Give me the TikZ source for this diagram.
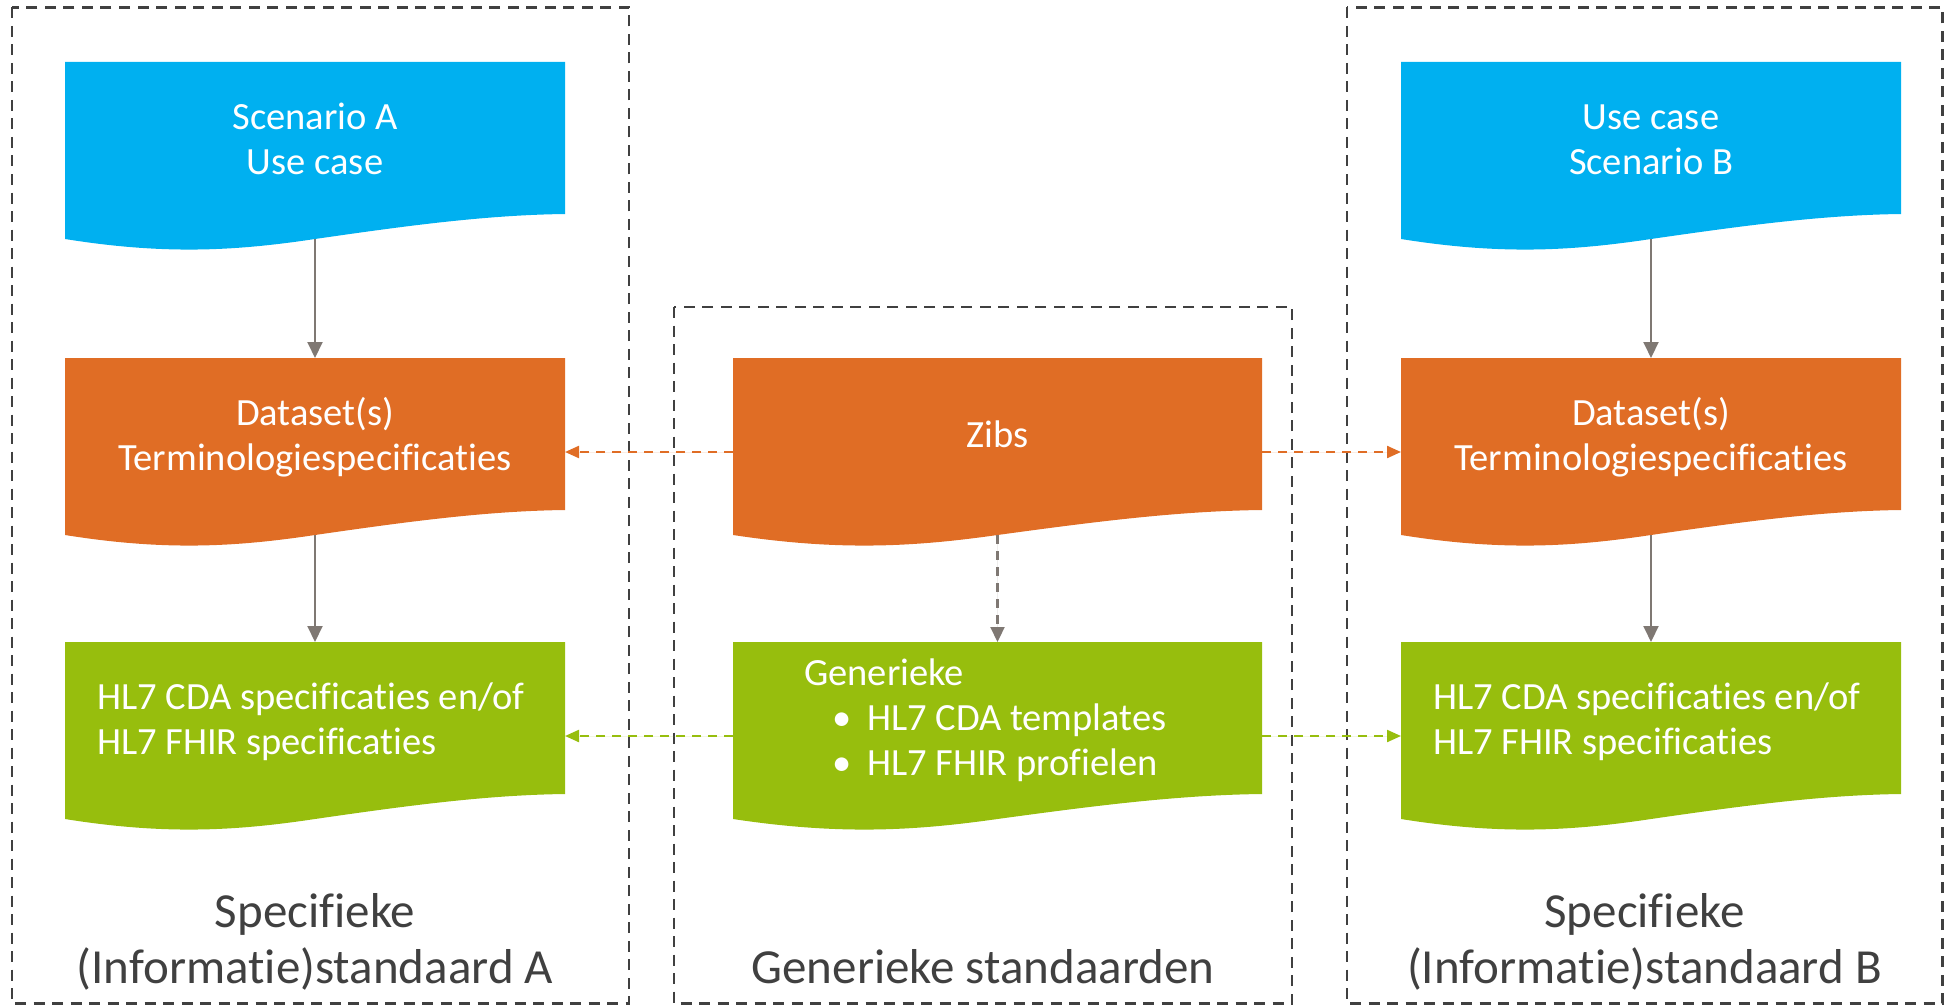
\documentclass[tikz,border=0pt]{standalone}
\usepackage{fontspec}
\setmainfont[Ligatures={NoCommon,NoRare,NoContextual}]{Carlito}
\usetikzlibrary{arrows.meta}
\definecolor{cblue}{HTML}{00B0F0}
\definecolor{corange}{HTML}{E06D25}
\definecolor{cgreen}{HTML}{97BE0D}
\definecolor{cgray}{HTML}{7F7873}
\definecolor{cdark}{HTML}{404040}
\newcommand{\mydoc}[4]{\fill[#4] (#1,#2) -- ({#1+#3},#2) -- ({#1+#3},{#2+152}) .. controls ({#1+0.84*#3},{#2+153}) and ({#1+0.68*#3},{#2+164}) .. ({#1+0.5*#3},{#2+177}) .. controls ({#1+0.34*#3},{#2+189}) and ({#1+0.2*#3},{#2+193}) .. (#1,{#2+177}) -- cycle;}
\begin{document}
\begin{tikzpicture}[x=1pt,y=-1pt,
  boxtext/.style={text=white, font=\fontsize{38.5}{46}\selectfont, inner sep=0pt, anchor=base},
  boxtextl/.style={boxtext, anchor=base west},
  biglabel/.style={text=cdark, font=\fontsize{49}{58}\selectfont, inner sep=0pt, anchor=base},
  frame/.style={draw=cdark, line width=2.2pt, dash pattern=on 11pt off 7.5pt},
  shapebox/.style={minimum height=188pt, inner sep=0pt, outer sep=0pt},
  flow/.style={draw=cgray, line width=2pt, -{Triangle[length=16pt,width=15pt]}},
  link/.style={line width=2.2pt, dash pattern=on 9pt off 7pt, -{Triangle[length=14pt,width=12pt]}}]
\useasboundingbox (0,0) rectangle (1944,1006);
% frames
\draw[frame] (12,7.5) rectangle (629,1003.5);
\draw[frame] (674,307) rectangle (1292,1003.5);
\draw[frame] (1347,7.5) rectangle (1942.5,1003.5);
% document shapes
\mydoc{65}{62}{500}{cblue}
\mydoc{65}{358}{500}{corange}
\mydoc{65}{642}{500}{cgreen}
\mydoc{733}{358}{529}{corange}
\mydoc{733}{642}{529}{cgreen}
\mydoc{1401}{62}{500}{cblue}
\mydoc{1401}{358}{500}{corange}
\mydoc{1401}{642}{500}{cgreen}
% anchor nodes
\node[shapebox, minimum width=500pt] (blueA) at (315,156) {};
\node[shapebox, minimum width=500pt] (orangeA) at (315,452) {};
\node[shapebox, minimum width=500pt] (greenA) at (315,736) {};
\node[shapebox, minimum width=529pt] (zibs) at (997.5,452) {};
\node[shapebox, minimum width=529pt] (greenM) at (997.5,736) {};
\node[shapebox, minimum width=500pt] (blueB) at (1651,156) {};
\node[shapebox, minimum width=500pt] (orangeB) at (1651,452) {};
\node[shapebox, minimum width=500pt] (greenB) at (1651,736) {};
% texts
\node[boxtext] (tA1) at (315,129.5) {Scenario A};
\node[boxtext] (tA2) at (315,174.5) {Use case};
\node[boxtext] (tA3) at (315,425.5) {Dataset(s)};
\node[boxtext] (tA4) at (315,470.5) {Terminologiespecificaties};
\node[boxtextl] (tA5) at (97,709.5) {HL7 CDA specificaties en/of};
\node[boxtextl] (tA6) at (97,754.5) {HL7 FHIR specificaties};
\node[boxtext] (tM1) at (997.5,447) {Zibs};
\node[boxtextl] (tM2) at (804,685) {Generieke};
\node[boxtext] (bul1) at (842,730) {•};
\node[boxtextl] (tM3) at (867,730) {HL7 CDA templates};
\node[boxtext] (bul2) at (842,775) {•};
\node[boxtextl] (tM4) at (867,775) {HL7 FHIR profielen};
\node[boxtext] (tB1) at (1651,129.5) {Use case};
\node[boxtext] (tB2) at (1651,174.5) {Scenario B};
\node[boxtext] (tB3) at (1651,425.5) {Dataset(s)};
\node[boxtext] (tB4) at (1651,470.5) {Terminologiespecificaties};
\node[boxtextl] (tB5) at (1433,709.5) {HL7 CDA specificaties en/of};
\node[boxtextl] (tB6) at (1433,754.5) {HL7 FHIR specificaties};
% bottom labels
\node[biglabel] (lA1) at (315,927) {Specifieke};
\node[biglabel] (lA2) at (315,983) {(Informatie)standaard A};
\node[biglabel] (lM) at (983,983) {Generieke standaarden};
\node[biglabel] (lB1) at (1644.5,927) {Specifieke};
\node[biglabel] (lB2) at (1644.5,983) {(Informatie)standaard B};
% connectors
\draw[flow] ([yshift=11pt]blueA.south) -- (orangeA.north);
\draw[flow] ([yshift=11pt]orangeA.south) -- (greenA.north);
\draw[flow] ([yshift=11pt]blueB.south) -- (orangeB.north);
\draw[flow] ([yshift=11pt]orangeB.south) -- (greenB.north);
\draw[link, draw=cgray, fill=cgray, -{Triangle[length=15pt,width=14pt]}] ([yshift=11pt]zibs.south) -- (greenM.north);
\draw[link, draw=corange, fill=corange] (zibs.west) -- (orangeA.east);
\draw[link, draw=corange, fill=corange] (zibs.east) -- (orangeB.west);
\draw[link, draw=cgreen, fill=cgreen] (greenM.west) -- (greenA.east);
\draw[link, draw=cgreen, fill=cgreen] (greenM.east) -- (greenB.west);
\end{tikzpicture}
\end{document}
